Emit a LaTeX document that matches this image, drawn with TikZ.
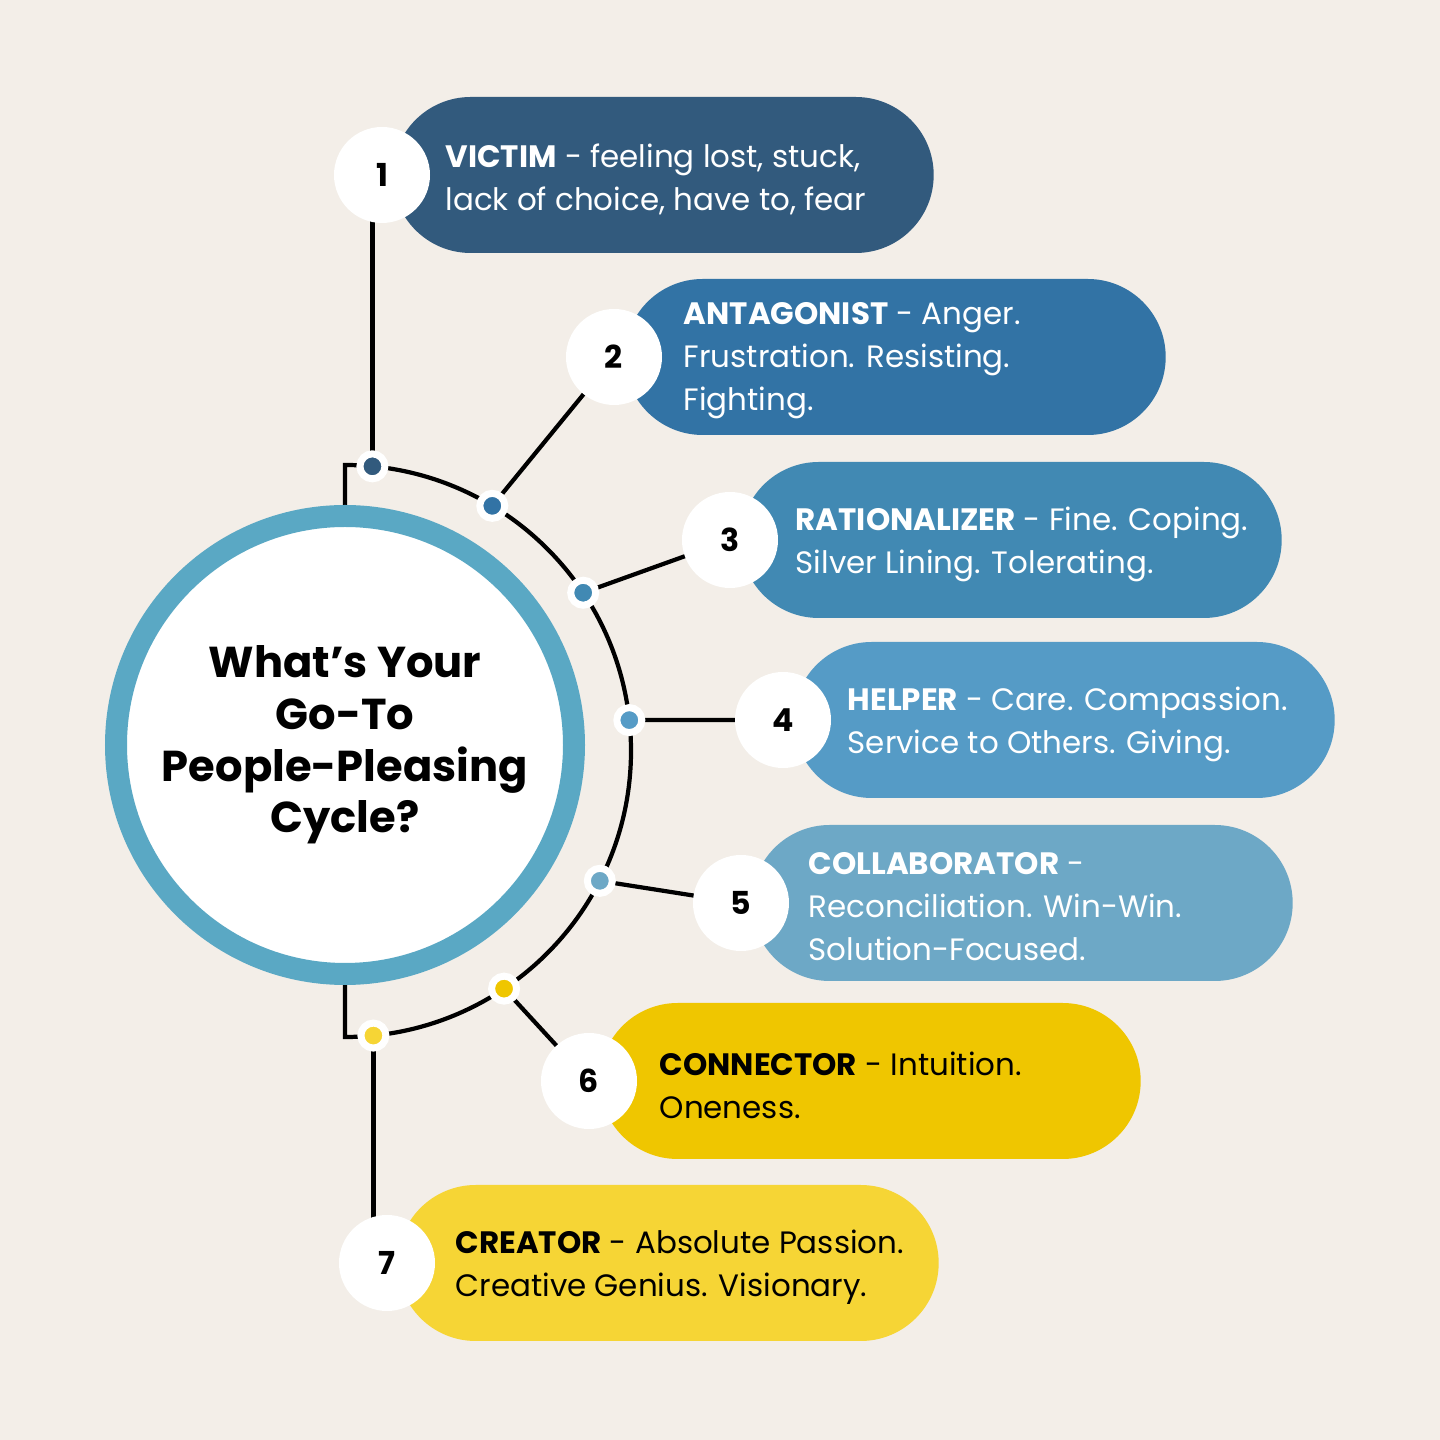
\documentclass[tikz,border=0pt]{standalone}
\usepackage{fontspec}
\setmainfont{Poppins}
\usepackage{xcolor}
\usetikzlibrary{backgrounds}

\definecolor{bgcream}{HTML}{F3EEE8}
\definecolor{ringblue}{HTML}{5AA8C4}
\definecolor{cvictim}{HTML}{325A7D}
\definecolor{cantag}{HTML}{3273A5}
\definecolor{crational}{HTML}{4189B3}
\definecolor{chelper}{HTML}{559BC6}
\definecolor{ccollab}{HTML}{6DA8C6}
\definecolor{cconnect}{HTML}{EFC600}
\definecolor{ccreate}{HTML}{F6D535}

\tikzset{
  pill/.style={rounded corners=0.78cm, minimum width=5.41cm, minimum height=1.56cm, inner sep=0pt, anchor=west},
  numdisc/.style={circle, fill=white, minimum size=0.96cm, inner sep=0pt, font=\fontsize{9}{9}\selectfont\bfseries},
  pilltext/.style={anchor=west, align=left, inner sep=0pt, text=white, yshift=-0.04cm, font=\fontsize{8.8}{12.2}\selectfont},
  dotmark/.style={circle, draw=white, line width=0.07cm, minimum size=0.25cm, inner sep=0pt},
  link/.style={line width=1.2pt, black},
}

\begin{document}
\begin{tikzpicture}
    \useasboundingbox (0,0) rectangle (14.4,14.4);

    % centre circle
    \node[circle, fill=white, draw=ringblue, line width=0.22cm, minimum size=4.58cm, inner sep=0pt,
          align=center, font=\fontsize{12.3}{14.7}\selectfont\bfseries] (hub) at (3.45,6.95)
          {What’s Your\\Go-To\\People-Pleasing\\Cycle?};
    \coordinate (arcmid) at ([yshift=-0.06cm]hub.center);

    % anchor points of the seven stages
    \coordinate (c1) at (3.82,12.65);
    \coordinate (c2) at (6.14,10.83);
    \coordinate (c3) at (7.30,9.00);
    \coordinate (c4) at (7.83,7.20);
    \coordinate (c5) at (7.41,5.37);
    \coordinate (c6) at (5.89,3.59);
    \coordinate (c7) at (3.87,1.77);

    % pills
    \node[pill, fill=cvictim]   (p1) at ([xshift=0.1cm]c1) {};
    \node[pill, fill=cantag]    (p2) at ([xshift=0.1cm]c2) {};
    \node[pill, fill=crational] (p3) at ([xshift=0.1cm]c3) {};
    \node[pill, fill=chelper]   (p4) at ([xshift=0.1cm]c4) {};
    \node[pill, fill=ccollab]   (p5) at ([xshift=0.1cm]c5) {};
    \node[pill, fill=cconnect]  (p6) at ([xshift=0.1cm]c6) {};
    \node[pill, fill=ccreate]   (p7) at ([xshift=0.1cm]c7) {};

    % texts
    \node[pilltext] (t1) at ([xshift=0.63cm]c1) {\textbf{VICTIM} - feeling lost, stuck,\\lack of choice, have to, fear};
    \node[pilltext] (t2) at ([xshift=0.69cm]c2) {\textbf{ANTAGONIST} - Anger.\\Frustration. Resisting.\\Fighting.};
    \node[pilltext] (t3) at ([xshift=0.65cm]c3) {\textbf{RATIONALIZER} - Fine. Coping.\\Silver Lining. Tolerating.};
    \node[pilltext] (t4) at ([xshift=0.64cm]c4) {\textbf{HELPER} - Care. Compassion.\\Service to Others. Giving.};
    \node[pilltext] (t5) at ([xshift=0.67cm]c5) {\textbf{COLLABORATOR} -\\Reconciliation. Win-Win.\\Solution-Focused.};
    \node[pilltext, text=black] (t6) at ([xshift=0.70cm]c6) {\textbf{CONNECTOR} - Intuition.\\Oneness.};
    \node[pilltext, text=black] (t7) at ([xshift=0.68cm]c7) {\textbf{CREATOR} - Absolute Passion.\\Creative Genius. Visionary.};

    % numbers
    \foreach \i in {1,...,7} {
        \node[numdisc] (n\i) at (c\i) {\i};
    }

    % dots on the arc
    \foreach \i/\ang/\col in {1/84.5/cvictim, 2/59/cantag, 3/33.6/crational, 4/6.2/chelper,
                              5/-27/ccollab, 6/-56.2/cconnect, 7/-84.3/ccreate} {
        \node[dotmark, fill=\col] (d\i) at ([shift={(\ang:2.86)}]arcmid) {};
    }

    \begin{pgfonlayer}{background}
        \fill[bgcream] (0,0) rectangle (14.4,14.4);
        % arc round the hub
        \draw[link] (hub.center) -- ([yshift=2.86cm]hub.center |- arcmid)
            arc[start angle=90, end angle=-90, radius=2.86cm] -- (hub.center);
        % connectors
        \draw[link] (d1.center) -- (d1.center |- n1.center);
        \draw[link] (d7.center) -- (d7.center |- n7.center);
        \foreach \i in {2,...,6} {
            \draw[link] (d\i.center) -- (n\i.center);
        }
    \end{pgfonlayer}
\end{tikzpicture}
\end{document}
